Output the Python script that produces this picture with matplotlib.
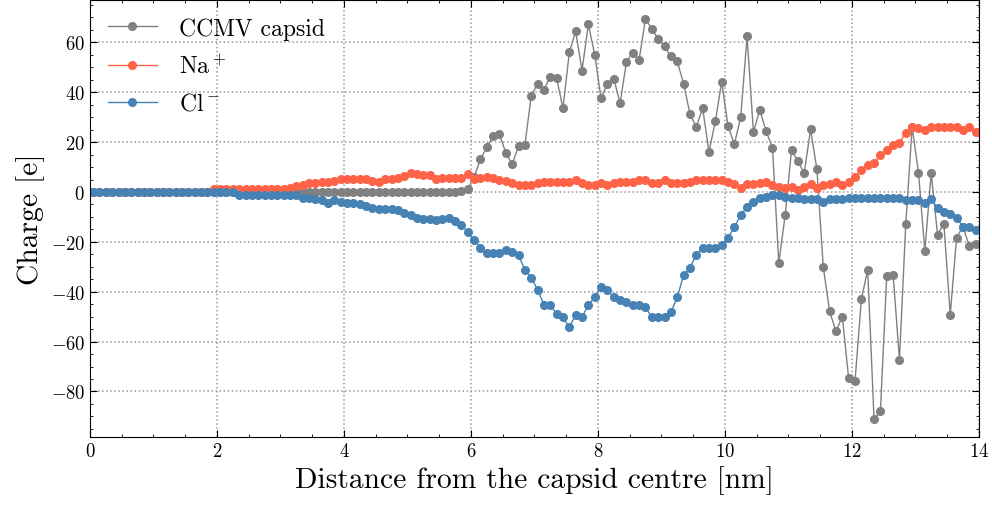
import numpy as np
import matplotlib
matplotlib.use("Agg")
import matplotlib.pyplot as plt
from matplotlib.ticker import MultipleLocator

plt.rcParams['font.family'] = 'serif'
plt.rcParams['font.serif'] = ['cmr10']
plt.rcParams['mathtext.fontset'] = 'cm'
plt.rcParams['axes.formatter.use_mathtext'] = True
plt.rcParams['axes.unicode_minus'] = True

# Bin centres (nm)
distance = np.round(np.arange(140) * 0.1 + 0.05, 2)

capsid = [
    0, 0, 0, 0, 0, 0, 0, 0, 0, 0,
    0, 0, 0, 0, 0, 0, 0, 0, 0, 0,
    0, 0, 0, 0, 0, 0, 0, 0, 0, 0,
    0, 0, 0, 0, 0, 0, 0, 0, 0, 0,
    0, 0, 0, 0, 0, 0, 0, 0, 0, 0,
    0, 0, 0, 0, 0, 0, 0, 0, 0.3, 1.2,
    6, 13.1, 18.0, 22.3, 23.1, 15.7, 11.2, 18.3, 18.8, 38.5,
    43.5, 40.9, 46.3, 45.7, 33.5, 56, 64.4, 48.7, 67.2, 55.1,
    37.6, 43.5, 45.5, 35.6, 52.1, 55.9, 53.1, 69.5, 65.3, 61.5,
    58.4, 54.4, 52.4, 43.5, 31.3, 26.1, 33.6, 16.1, 28.3, 44.2,
    26.4, 19.2, 30.1, 62.4, 24, 32.9, 24.4, 17.7, -28.5, -9.3,
    16.9, 12.4, 7.6, 25.1, 9.1, -30.1, -47.9, -55.9, -50, -74.7,
    -75.9, -43, -31.2, -91.2, -88, -33.6, -33.1, -67.2, -12.7, 26.1,
    7.7, -23.7, 7.6, -17.1, -12.7, -49.3, -18.3, -14, -21.6, -20.9,
]

sodium = [
    0, 0, 0, 0, 0, 0, 0, 0, 0, 0,
    0, 0, 0, 0, 0, 0, 0, 0, 0, 1.3,
    1.3, 1.3, 1.3, 1.3, 1.3, 1.3, 1.3, 1.3, 1.3, 1.1,
    1.1, 1.6, 2.4, 2.7, 3.5, 3.5, 4, 4, 4.4, 5.1,
    5.3, 5.3, 5.3, 5.3, 4.4, 4, 5.1, 5.1, 5.7, 6.4,
    7.7, 7.1, 6.7, 6.7, 5.3, 5.7, 5.7, 5.7, 5.7, 7.1,
    5.3, 5.7, 6.1, 5.7, 4.8, 4.4, 3.7, 2.9, 2.9, 2.9,
    3.7, 4, 4, 4, 4, 4, 4.8, 3.7, 2.9, 2.9,
    3.7, 2.9, 3.7, 4, 4, 4, 4.8, 4.8, 3.7, 3.7,
    4.8, 3.7, 3.7, 3.7, 4, 4.8, 4.8, 4.8, 4.8, 4.9,
    4, 3.1, 1.7, 3.1, 3.1, 3.5, 4, 2.7, 2, 1.7,
    2, 0.8, 2, 3.1, 1.7, 2.9, 3.1, 4, 2.7, 4,
    6, 8.7, 10.8, 11.7, 14.8, 16.7, 18.8, 19.7, 23.7, 25.9,
    25.7, 24.7, 25.9, 25.9, 25.9, 25.9, 25.9, 24.7, 25.9, 24,
]

chloride = [
    0, 0, 0, 0, 0, 0, 0, 0, 0, 0,
    0, 0, 0, 0, 0, 0, 0, 0, 0, 0,
    0, 0, 0, -1.1, -1.1, -1.1, -1.1, -1.1, -1.1, -1.1,
    -1.1, -1.1, -1.1, -2.3, -2.3, -2.7, -3.2, -4.3, -3.3, -4,
    -4.3, -4.3, -4.9, -5.6, -6.3, -6.7, -6.9, -6.9, -7.2, -8.3,
    -9.2, -10.3, -10.9, -10.7, -11.2, -10.9, -10.3, -11.6, -13.3, -16,
    -19.2, -22.3, -24.3, -24.3, -24.3, -23.2, -24, -25.3, -31.2, -34.3,
    -39.2, -45.2, -45.2, -48.9, -50.3, -54.3, -49.2, -50.3, -45.2, -42.3,
    -38.3, -39.2, -42.3, -43.3, -44.3, -45.2, -45.2, -46.3, -50.3, -50.3,
    -50.3, -48.3, -42.3, -33.3, -30.3, -25.2, -22.3, -22.3, -22.3, -21.2,
    -18.3, -14.2, -9.1, -6.1, -4, -2.3, -2, -1.3, -1.3, -1.9,
    -2.3, -2.3, -2.9, -2.9, -2.9, -3.9, -2.9, -2.9, -2.9, -2.5,
    -2.3, -2.3, -2.3, -2.3, -2.3, -2.3, -2.3, -2.5, -3.2, -3.2,
    -3.2, -4.3, -2.9, -6.3, -7.9, -8.9, -10.3, -13.9, -14.1, -15.2,
]

labels = ["CCMV capsid", "Na$^+$", "Cl$^-$"]
colors = ["gray", "tomato", "steelblue"]

fig = plt.figure(figsize=(9.92, 5.10), dpi=100)
ax = fig.add_axes([0.0907, 0.141, 0.896, 0.858])

for series, lab, col in zip([capsid, sodium, chloride], labels, colors):
    ax.plot(distance, series, marker='o', markersize=5.5, linewidth=1.0,
            color=col, label=lab)

ax.set_xlim(0, 14)
ax.set_ylim(-98.3, 77.2)
ax.xaxis.set_major_locator(MultipleLocator(2))
ax.xaxis.set_minor_locator(MultipleLocator(0.5))
ax.yaxis.set_major_locator(MultipleLocator(20))
ax.yaxis.set_minor_locator(MultipleLocator(5))
ax.tick_params(which='both', direction='in', top=True, right=True, labelsize=13.5)
ax.tick_params(which='major', length=5, width=0.8)
ax.tick_params(which='minor', length=2.5, width=0.6)
ax.grid(True, which='major', linestyle=':', color='0.6', linewidth=1.1)

ax.set_xlabel("Distance from the capsid centre [nm]", fontsize=21.3)
ax.set_ylabel("Charge [e]", fontsize=21.3)
ax.legend(loc='upper left', frameon=False, fontsize=17, handlelength=2.1,
          handletextpad=0.9, labelspacing=0.62, borderaxespad=0.35)

fig.savefig("out.png", dpi=100)
